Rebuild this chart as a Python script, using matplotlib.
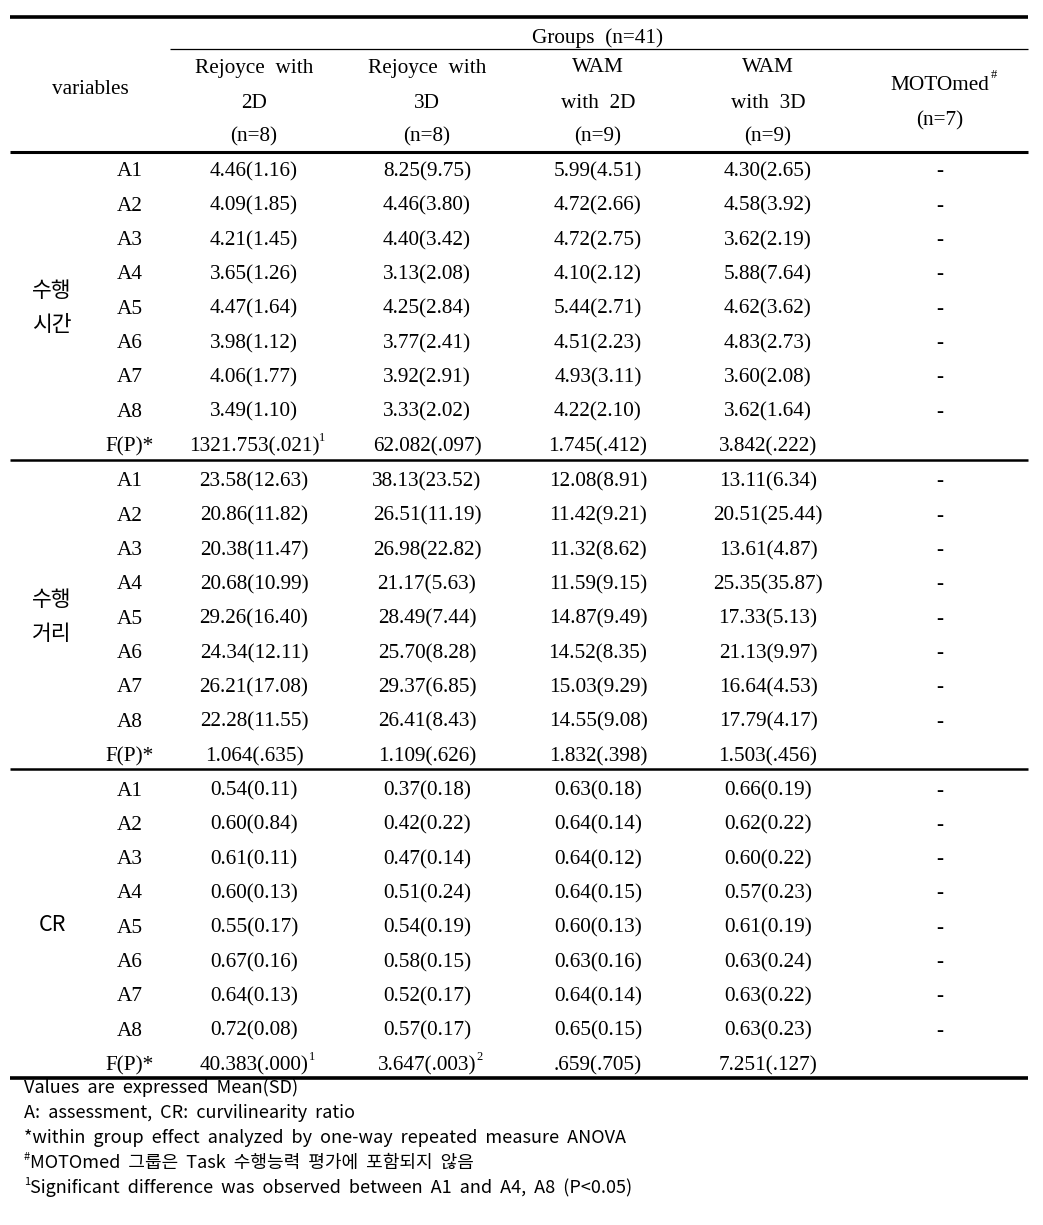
import matplotlib
matplotlib.use("Agg")
import matplotlib.pyplot as plt

# ---------------- data ----------------
groups_title = "Groups  (n=41)"
col_headers = [
    ["Rejoyce  with", "2D", "(n=8)"],
    ["Rejoyce  with", "3D", "(n=8)"],
    ["WAM", "with  2D", "(n=9)"],
    ["WAM", "with  3D", "(n=9)"],
    ["MOTOmed", "(n=7)"],
]
row_labels = ["A1", "A2", "A3", "A4", "A5", "A6", "A7", "A8", "F(P)*"]
section_names = [["수행", "시간"], ["수행", "거리"], ["CR"]]

time_vals = [
    ["4.46(1.16)", "8.25(9.75)", "5.99(4.51)", "4.30(2.65)", "-"],
    ["4.09(1.85)", "4.46(3.80)", "4.72(2.66)", "4.58(3.92)", "-"],
    ["4.21(1.45)", "4.40(3.42)", "4.72(2.75)", "3.62(2.19)", "-"],
    ["3.65(1.26)", "3.13(2.08)", "4.10(2.12)", "5.88(7.64)", "-"],
    ["4.47(1.64)", "4.25(2.84)", "5.44(2.71)", "4.62(3.62)", "-"],
    ["3.98(1.12)", "3.77(2.41)", "4.51(2.23)", "4.83(2.73)", "-"],
    ["4.06(1.77)", "3.92(2.91)", "4.93(3.11)", "3.60(2.08)", "-"],
    ["3.49(1.10)", "3.33(2.02)", "4.22(2.10)", "3.62(1.64)", "-"],
    ["1321.753(.021)", "62.082(.097)", "1.745(.412)", "3.842(.222)", ""],
]
dist_vals = [
    ["23.58(12.63)", "38.13(23.52)", "12.08(8.91)", "13.11(6.34)", "-"],
    ["20.86(11.82)", "26.51(11.19)", "11.42(9.21)", "20.51(25.44)", "-"],
    ["20.38(11.47)", "26.98(22.82)", "11.32(8.62)", "13.61(4.87)", "-"],
    ["20.68(10.99)", "21.17(5.63)", "11.59(9.15)", "25.35(35.87)", "-"],
    ["29.26(16.40)", "28.49(7.44)", "14.87(9.49)", "17.33(5.13)", "-"],
    ["24.34(12.11)", "25.70(8.28)", "14.52(8.35)", "21.13(9.97)", "-"],
    ["26.21(17.08)", "29.37(6.85)", "15.03(9.29)", "16.64(4.53)", "-"],
    ["22.28(11.55)", "26.41(8.43)", "14.55(9.08)", "17.79(4.17)", "-"],
    ["1.064(.635)", "1.109(.626)", "1.832(.398)", "1.503(.456)", ""],
]
cr_vals = [
    ["0.54(0.11)", "0.37(0.18)", "0.63(0.18)", "0.66(0.19)", "-"],
    ["0.60(0.84)", "0.42(0.22)", "0.64(0.14)", "0.62(0.22)", "-"],
    ["0.61(0.11)", "0.47(0.14)", "0.64(0.12)", "0.60(0.22)", "-"],
    ["0.60(0.13)", "0.51(0.24)", "0.64(0.15)", "0.57(0.23)", "-"],
    ["0.55(0.17)", "0.54(0.19)", "0.60(0.13)", "0.61(0.19)", "-"],
    ["0.67(0.16)", "0.58(0.15)", "0.63(0.16)", "0.63(0.24)", "-"],
    ["0.64(0.13)", "0.52(0.17)", "0.64(0.14)", "0.63(0.22)", "-"],
    ["0.72(0.08)", "0.57(0.17)", "0.65(0.15)", "0.63(0.23)", "-"],
    ["40.383(.000)", "3.647(.003)", ".659(.705)", "7.251(.127)", ""],
]
# superscripts: (section, row, col) -> mark
superscripts = {(0, 8, 0): "1", (2, 8, 0): "1", (2, 8, 1): "2"}

footnotes = [
    "Values  are  expressed  Mean(SD)",
    "A:  assessment,  CR:  curvilinearity  ratio",
    "*within  group  effect  analyzed  by  one-way  repeated  measure  ANOVA",
    "MOTOmed  그룹은  Task  수행능력  평가에  포함되지  않음",
    "Significant  difference  was  observed  between  A1  and  A4,  A8  (P<0.05)",
]
footnote_marks = ["", "", "", "#", "1"]

# ---------------- layout ----------------
W, H = 1043, 1225
fig = plt.figure(figsize=(W / 100, H / 100), dpi=100)
ax = fig.add_axes([0, 0, 1, 1])
ax.set_xlim(0, W)
ax.set_ylim(H, 0)
ax.axis("off")

SERIF = ["Liberation Serif", "DejaVu Serif"]
KR = ["Noto Sans CJK KR", "DejaVu Sans"]
FS = 15.3
col_x = [254, 427, 598, 768, 940]
label_x = 130
left, right = 10, 1028
dy = 3  # text baseline offset

# lines
ax.plot([left, right], [17, 17], color="black", lw=2.6, solid_capstyle="butt")
ax.plot([170, right], [49, 49], color="black", lw=0.9, solid_capstyle="butt")
ax.plot([left, right], [152, 152], color="black", lw=2.2, solid_capstyle="butt")
ax.plot([left, right], [460, 460], color="black", lw=1.8, solid_capstyle="butt")
ax.plot([left, right], [769, 769], color="black", lw=1.8, solid_capstyle="butt")
ax.plot([left, right], [1078, 1078], color="black", lw=2.6, solid_capstyle="butt")

# header
ax.text(598, 35 + dy, groups_title, ha="center", va="center", fontsize=FS, family=SERIF)
ax.text(90, 86 + dy, "variables", ha="center", va="center", fontsize=FS, family=SERIF)
head_y3 = [65, 100, 134]
head_y2 = [82, 118]
for i, lines in enumerate(col_headers):
    ys = head_y3 if len(lines) == 3 else head_y2
    for ln, y in zip(lines, ys):
        t = ax.text(col_x[i], y + dy, ln, ha="center", va="center", fontsize=FS, family=SERIF)
        if ln == "MOTOmed":
            ax.annotate("#", xy=(1, 1), xycoords=t, xytext=(1, -4),
                        textcoords="offset points", ha="left", va="bottom",
                        fontsize=9, family=SERIF)

# body
sections = [time_vals, dist_vals, cr_vals]
sec_top = [169, 479, 788]
row_h = 34.3
sec_name_y = [308, 617, 925]
for s, vals in enumerate(sections):
    names = section_names[s]
    n = len(names)
    for k, nm in enumerate(names):
        y = sec_name_y[s] + (k - (n - 1) / 2) * 34
        ax.text(52, y, nm, ha="center", va="center", fontsize=15.5, family=KR)
    for r, lab in enumerate(row_labels):
        y = sec_top[s] + r * row_h + dy
        ax.text(label_x, y, lab, ha="center", va="center", fontsize=FS, family=SERIF)
        for c, v in enumerate(vals[r]):
            if not v:
                continue
            t = ax.text(col_x[c], y, v, ha="center", va="center", fontsize=FS, family=SERIF)
            mark = superscripts.get((s, r, c))
            if mark:
                ax.annotate(mark, xy=(1, 1), xycoords=t, xytext=(0, -5),
                            textcoords="offset points", ha="left", va="bottom",
                            fontsize=9, family=SERIF)

# footnotes
fn_y = [1088, 1113, 1138, 1163, 1188]
for txt, mark, y in zip(footnotes, footnote_marks, fn_y):
    x = 24
    if mark:
        ax.text(x, y - 6, mark, ha="left", va="center", fontsize=8, family=KR)
        x = 30
    ax.text(x, y, txt, ha="left", va="center", fontsize=13, family=KR)

fig.savefig("out.png", dpi=100)
